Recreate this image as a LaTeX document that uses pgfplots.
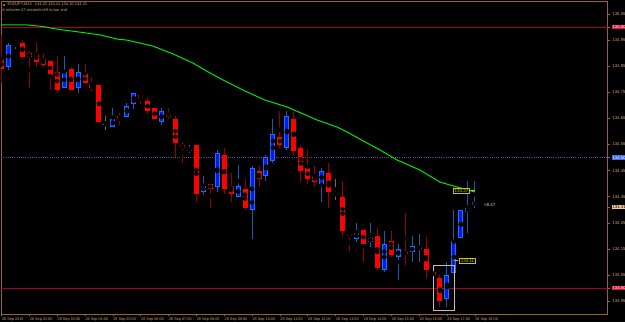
\documentclass[border=0pt]{standalone}
\usepackage{pgfplots}
\pgfplotsset{compat=1.18}
\usepackage{pgfplotstable}
\usepackage{fontspec}
\setmainfont{Liberation Sans}
\setlength{\fboxsep}{0.6pt}
\definecolor{framec}{RGB}{150,100,50}
\definecolor{tickc}{RGB}{205,165,120}
\definecolor{bullb}{RGB}{30,110,255}
\definecolor{bullf}{RGB}{0,30,230}
\definecolor{bullw}{RGB}{30,90,170}
\definecolor{bearb}{RGB}{255,0,0}
\definecolor{bearw}{RGB}{150,0,0}
\definecolor{dojic}{RGB}{120,120,0}
\definecolor{dojih}{RGB}{200,200,0}
\definecolor{mac}{RGB}{0,230,0}
\definecolor{redln}{RGB}{170,0,40}
\definecolor{redbg}{RGB}{220,20,60}
\definecolor{blueln}{RGB}{70,90,170}
\definecolor{bluebg}{RGB}{60,110,230}
\definecolor{peach}{RGB}{250,200,150}
\definecolor{rectc}{RGB}{190,190,190}
\definecolor{labc}{RGB}{200,200,0}

\pgfplotstableread{
i O H L C
1 134.847 134.940 134.838 134.931
2 134.936 134.950 134.919 134.945
9 134.769 134.889 134.769 134.829
11 134.769 134.858 134.748 134.829
16 134.618 134.689 134.618 134.649
18 134.657 134.708 134.657 134.699
19 134.706 134.750 134.686 134.750
23 134.636 134.689 134.627 134.678
27 134.526 134.548 134.519 134.539
29 134.369 134.429 134.359 134.391
31 134.388 134.529 134.369 134.519
34 134.350 134.471 134.350 134.391
36 134.300 134.470 134.188 134.460
38 134.429 134.510 134.409 134.501
39 134.488 134.648 134.478 134.590
41 134.538 134.677 134.528 134.659
46 134.400 134.460 134.330 134.450
51 134.189 134.249 134.179 134.210
53 134.179 134.249 134.158 134.192
55 134.070 134.220 134.060 134.170
57 134.120 134.170 134.030 134.150
59 134.139 134.199 134.100 134.160
60 134.150 134.210 134.100 134.160
64 133.959 134.100 133.929 134.050
65 134.060 134.299 134.060 134.180
66 134.191 134.299 134.191 134.299
67 134.290 134.410 134.210 134.309
68 134.319 134.410 134.309 134.329
}\bull

\pgfplotstableread{
i O H L C
0 134.878 134.970 134.786 134.839
3 134.940 134.950 134.886 134.886
4 134.901 134.909 134.768 134.886
5 134.899 134.940 134.848 134.866
6 134.878 134.899 134.848 134.857
7 134.870 134.870 134.758 134.817
8 134.829 134.889 134.748 134.758
10 134.839 134.848 134.758 134.758
12 134.820 134.858 134.787 134.787
13 134.778 134.809 134.758 134.766
14 134.778 134.778 134.637 134.637
17 134.659 134.670 134.627 134.647
20 134.740 134.740 134.708 134.728
21 134.718 134.729 134.667 134.677
22 134.689 134.689 134.648 134.648
24 134.670 134.689 134.648 134.658
25 134.648 134.659 134.501 134.556
26 134.548 134.560 134.479 134.537
28 134.548 134.548 134.330 134.359
30 134.400 134.400 134.308 134.380
32 134.509 134.538 134.359 134.380
33 134.391 134.440 134.330 134.359
35 134.380 134.420 134.299 134.308
37 134.450 134.470 134.388 134.418
40 134.579 134.677 134.538 134.547
42 134.649 134.677 134.509 134.526
43 134.539 134.548 134.409 134.450
44 134.460 134.529 134.399 134.418
45 134.429 134.470 134.388 134.409
47 134.441 134.480 134.309 134.369
49 134.350 134.410 134.199 134.220
50 134.210 134.210 134.139 134.200
52 134.221 134.221 134.099 134.169
54 134.199 134.230 134.069 134.078
56 134.180 134.220 134.120 134.129
58 134.139 134.290 134.089 134.129
61 134.150 134.199 134.040 134.069
62 134.060 134.060 134.050 134.050
63 134.040 134.050 133.929 133.949
}\bear

\pgfplotstableread{
i O H L C
15 134.627 134.659 134.606 134.627
48 134.359 134.420 134.337 134.359
}\doji

\pgfplotstableread{
i ma
-0.5 135.008
3.66 135.008
5.96 135.002
7.97 134.992
11.71 134.979
14.15 134.970
16.59 134.954
18.03 134.950
21.77 134.927
24.64 134.897
27.51 134.862
29.96 134.824
31.83 134.797
34.99 134.755
37.86 134.720
41.02 134.694
45.33 134.644
48.20 134.617
49.64 134.598
52.23 134.560
54.38 134.529
56.82 134.491
60.13 134.452
63.00 134.406
65.45 134.387
68.03 134.368
}\ma

\newcommand{\tf}{\fontsize{4.3}{5}\selectfont}

\begin{document}
\begin{tikzpicture}
\fill[black] (0pt,0pt) rectangle (625pt,322pt);
\useasboundingbox (0pt,0pt) rectangle (625pt,322pt);
\begin{axis}[
  at={(1pt,8pt)}, anchor=south west,
  scale only axis, width=606.7pt, height=313pt,
  xmin=-0.072, xmax=87.1, ymin=133.9006, ymax=135.0998,
  axis line style={draw=framec, line width=0.7pt},
  tick style={draw=framec, line width=0.5pt},
  tick align=outside, major tick length=2pt,
  xtick pos=bottom, ytick pos=right,
  xtick={0,4,8,12,16,20,24,28,32,36,40,44,48,52,56,60,64,68},
  xticklabels={28 Sep 2015,28 Sep 02:00,28 Sep 03:00,28 Sep 04:00,28 Sep 05:00,28 Sep 06:00,28 Sep 07:00,28 Sep 08:00,28 Sep 09:00,28 Sep 10:00,28 Sep 11:00,28 Sep 12:00,28 Sep 13:00,28 Sep 14:00,28 Sep 15:00,28 Sep 16:00,28 Sep 17:00,28 Sep 18:00},
  xticklabel style={anchor=north west, font=\fontsize{3.8}{4.5}\selectfont, text=tickc, inner sep=0pt, yshift=-1.2pt, xshift=0.3pt},
  ytick={133.95,134.05,134.15,134.25,134.35,134.45,134.55,134.65,134.75,134.85,134.95,135.05},
  yticklabels={133.95,134.05,134.15,134.25,134.35,134.45,134.55,134.65,134.75,134.85,134.95,135.05},
  yticklabel style={anchor=west, font=\tf, text=tickc, inner sep=0pt, xshift=2.5pt},
  extra y ticks={135.00,134.50,134.31,134.00},
  extra y tick labels={\colorbox{redbg}{\textcolor{white}{135.00}},\colorbox{bluebg}{\textcolor{white}{134.50}},\colorbox{peach}{\textcolor{black}{134.31}},\colorbox{redbg}{\textcolor{white}{134.00}}},
  extra y tick style={yticklabel style={xshift=-0.5pt}},
  clip=true,
]
% horizontal levels
\addplot[redln, line width=0.7pt, forget plot] coordinates {(-1,135.00) (90,135.00)};
\addplot[redln, line width=0.7pt, forget plot] coordinates {(-1,134.00) (90,134.00)};
\addplot[blueln, line width=0.6pt, dash pattern=on 1pt off 1.2pt, forget plot] coordinates {(-1,134.50) (90,134.50)};
% wicks
\addplot[only marks, mark=none, forget plot, error bars/.cd, y dir=both, y explicit, error mark=none,
  error bar style={line width=1pt, draw=bullw}]
  table[x=i, y expr={(\thisrow{H}+\thisrow{L})/2}, y error expr={(\thisrow{H}-\thisrow{L})/2}] {\bull};
\addplot[only marks, mark=none, forget plot, error bars/.cd, y dir=both, y explicit, error mark=none,
  error bar style={line width=1pt, draw=bearw}]
  table[x=i, y expr={(\thisrow{H}+\thisrow{L})/2}, y error expr={(\thisrow{H}-\thisrow{L})/2}] {\bear};
\addplot[only marks, mark=none, forget plot, error bars/.cd, y dir=both, y explicit, error mark=none,
  error bar style={line width=1pt, draw=dojic}]
  table[x=i, y expr={(\thisrow{H}+\thisrow{L})/2}, y error expr={(\thisrow{H}-\thisrow{L})/2}] {\doji};
% bodies
\addplot[only marks, mark=none, forget plot, error bars/.cd, y dir=both, y explicit, error mark=none,
  error bar style={line width=5pt, draw=bearb}]
  table[x=i, y expr={(\thisrow{O}+\thisrow{C})/2}, y error expr={abs(\thisrow{O}-\thisrow{C})/2}] {\bear};
\addplot[only marks, mark=none, forget plot, error bars/.cd, y dir=both, y explicit, error mark=none,
  error bar style={line width=5pt, draw=bullb}]
  table[x=i, y expr={(\thisrow{O}+\thisrow{C})/2}, y error expr={abs(\thisrow{O}-\thisrow{C})/2}] {\bull};
\addplot[only marks, mark=none, forget plot, error bars/.cd, y dir=both, y explicit, error mark=none,
  error bar style={line width=3pt, draw=bullf}]
  table[x=i, y expr={(\thisrow{O}+\thisrow{C})/2}, y error expr={max(abs(\thisrow{O}-\thisrow{C})/2-0.0038,0)}] {\bull};
\addplot[only marks, mark=none, forget plot, error bars/.cd, x dir=both, x fixed=0.36, error mark=none,
  error bar style={line width=1pt, draw=dojih}]
  table[x=i, y=O] {\doji};
% moving average
\addplot[mac, line width=1pt, forget plot] table[x=i, y=ma] {\ma};
% rectangle
\addplot[rectc, line width=0.8pt, forget plot] coordinates {(62.04,134.087) (65.06,134.087) (65.06,133.914) (62.04,133.914) (62.04,134.087)};
% leader lines
\addplot[labc, line width=0.7pt, forget plot] coordinates {(65.02,134.107) (65.6,134.107)};
\addplot[labc, line width=0.7pt, forget plot] coordinates {(67.4,134.373) (68.03,134.373)};
\node[draw=labc, fill=black, text=labc, font=\fontsize{4.5}{5}\selectfont, inner xsep=1.3pt, inner ysep=0.8pt, line width=0.6pt] at (axis cs:66.96,134.104) {134.11};
\node[draw=labc, fill=black, text=labc, font=\fontsize{4.5}{5}\selectfont, inner xsep=1.3pt, inner ysep=0.8pt, line width=0.6pt] at (axis cs:66.09,134.372) {134.37};
\node[anchor=west, text=white!85!black, font=\fontsize{4.5}{5}\selectfont, inner sep=0pt] at (axis cs:69.3,134.318) {<8.47};
\end{axis}
\node[anchor=west, text=tickc, font=\fontsize{4}{5}\selectfont, inner sep=0pt] at (3pt,317.6pt) {\textcolor{framec}{\rule{2pt}{2pt}}\hspace{2.5pt}EURJPY,M15\hspace{3pt}134.32 134.41 134.30 134.31};
\node[anchor=west, text=tickc, font=\fontsize{4}{5}\selectfont, inner sep=0pt] at (2.5pt,312pt) {6 minutes 47 seconds left to bar end};
\end{tikzpicture}
\end{document}
